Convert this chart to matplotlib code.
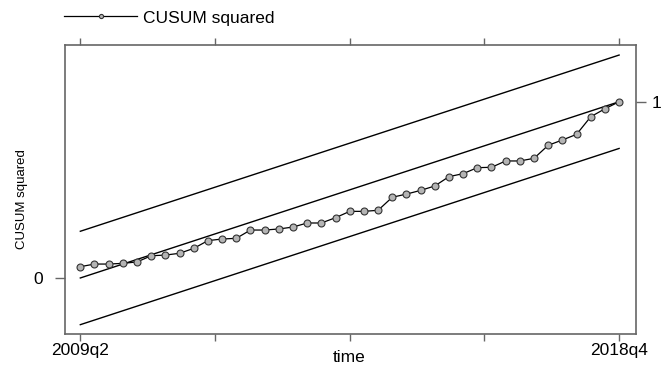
import matplotlib
matplotlib.use('Agg')
import matplotlib.pyplot as plt
import numpy as np

plt.rcParams['font.family'] = ['Liberation Sans', 'DejaVu Sans']

# quarters 2009q2 .. 2018q4
periods = ['2009q2', '2018q4']
n_obs = 39
cusum_sq = [0.064, 0.079, 0.079, 0.083, 0.091, 0.126, 0.130, 0.140, 0.168, 0.212,
            0.221, 0.225, 0.272, 0.272, 0.278, 0.289, 0.312, 0.312, 0.342, 0.378,
            0.378, 0.384, 0.458, 0.476, 0.497, 0.522, 0.575, 0.592, 0.626, 0.628,
            0.664, 0.664, 0.679, 0.753, 0.783, 0.815, 0.915, 0.960, 1.000]
band = 0.265  # 5% critical value

t = np.arange(n_obs)
expected = t / (n_obs - 1)

W, H = 664, 365
fig = plt.figure(figsize=(W / 100, H / 100), dpi=100)
ax = fig.add_axes([0.0979, 0.0849, 0.8599, 0.7918])

ax.plot(t, expected + band, color='black', lw=1)
ax.plot(t, expected, color='black', lw=1)
ax.plot(t, expected - band, color='black', lw=1)
ax.plot(t, cusum_sq, color='black', lw=0.9, marker='o', ms=5,
        mfc='#b4b4b4', mec='#333333', mew=0.8, label='CUSUM squared')

ax.set_xlim(-1.08, 39.19)
ax.set_ylim(-0.318, 1.322)

gray = '#666666'
for s in ax.spines.values():
    s.set_color(gray)
    s.set_linewidth(1.2)

xt = [0, 9.5, 19, 28.5, 38]
ax.set_xticks(xt)
ax.set_xticklabels([periods[0], '', '', '', periods[1]], fontsize=12.5)
ax.tick_params(axis='x', which='both', top=True, direction='out', length=5,
               width=1, color=gray, pad=1.5)
ax.set_yticks([0])
ax.set_yticklabels(['0'], fontsize=12.5)
ax.tick_params(axis='y', direction='out', length=7.5, width=1, color=gray, pad=8)

ax2 = ax.twinx()
ax2.set_ylim(ax.get_ylim())
ax2.set_yticks([1])
ax2.set_yticklabels(['1'], fontsize=12.5)
ax2.tick_params(axis='y', direction='out', length=7.5, width=1, color=gray, pad=4)
for s in ax2.spines.values():
    s.set_visible(False)

fig.text(349 / W, 1 - 357 / H, 'time', fontsize=12.5, ha='center', va='center')
fig.text(22 / W, 1 - 199 / H, 'CUSUM squared', fontsize=9.5, rotation=90,
         family=['Liberation Sans Narrow', 'Liberation Sans'], ha='center', va='center')

ax.legend(loc='lower left', bbox_to_anchor=(0.097, 0.93), bbox_transform=fig.transFigure,
          frameon=False, fontsize=12.5, handlelength=4.2, handletextpad=0.35,
          borderpad=0, borderaxespad=0, markerscale=0.6)

fig.savefig('out.png', dpi=100)
